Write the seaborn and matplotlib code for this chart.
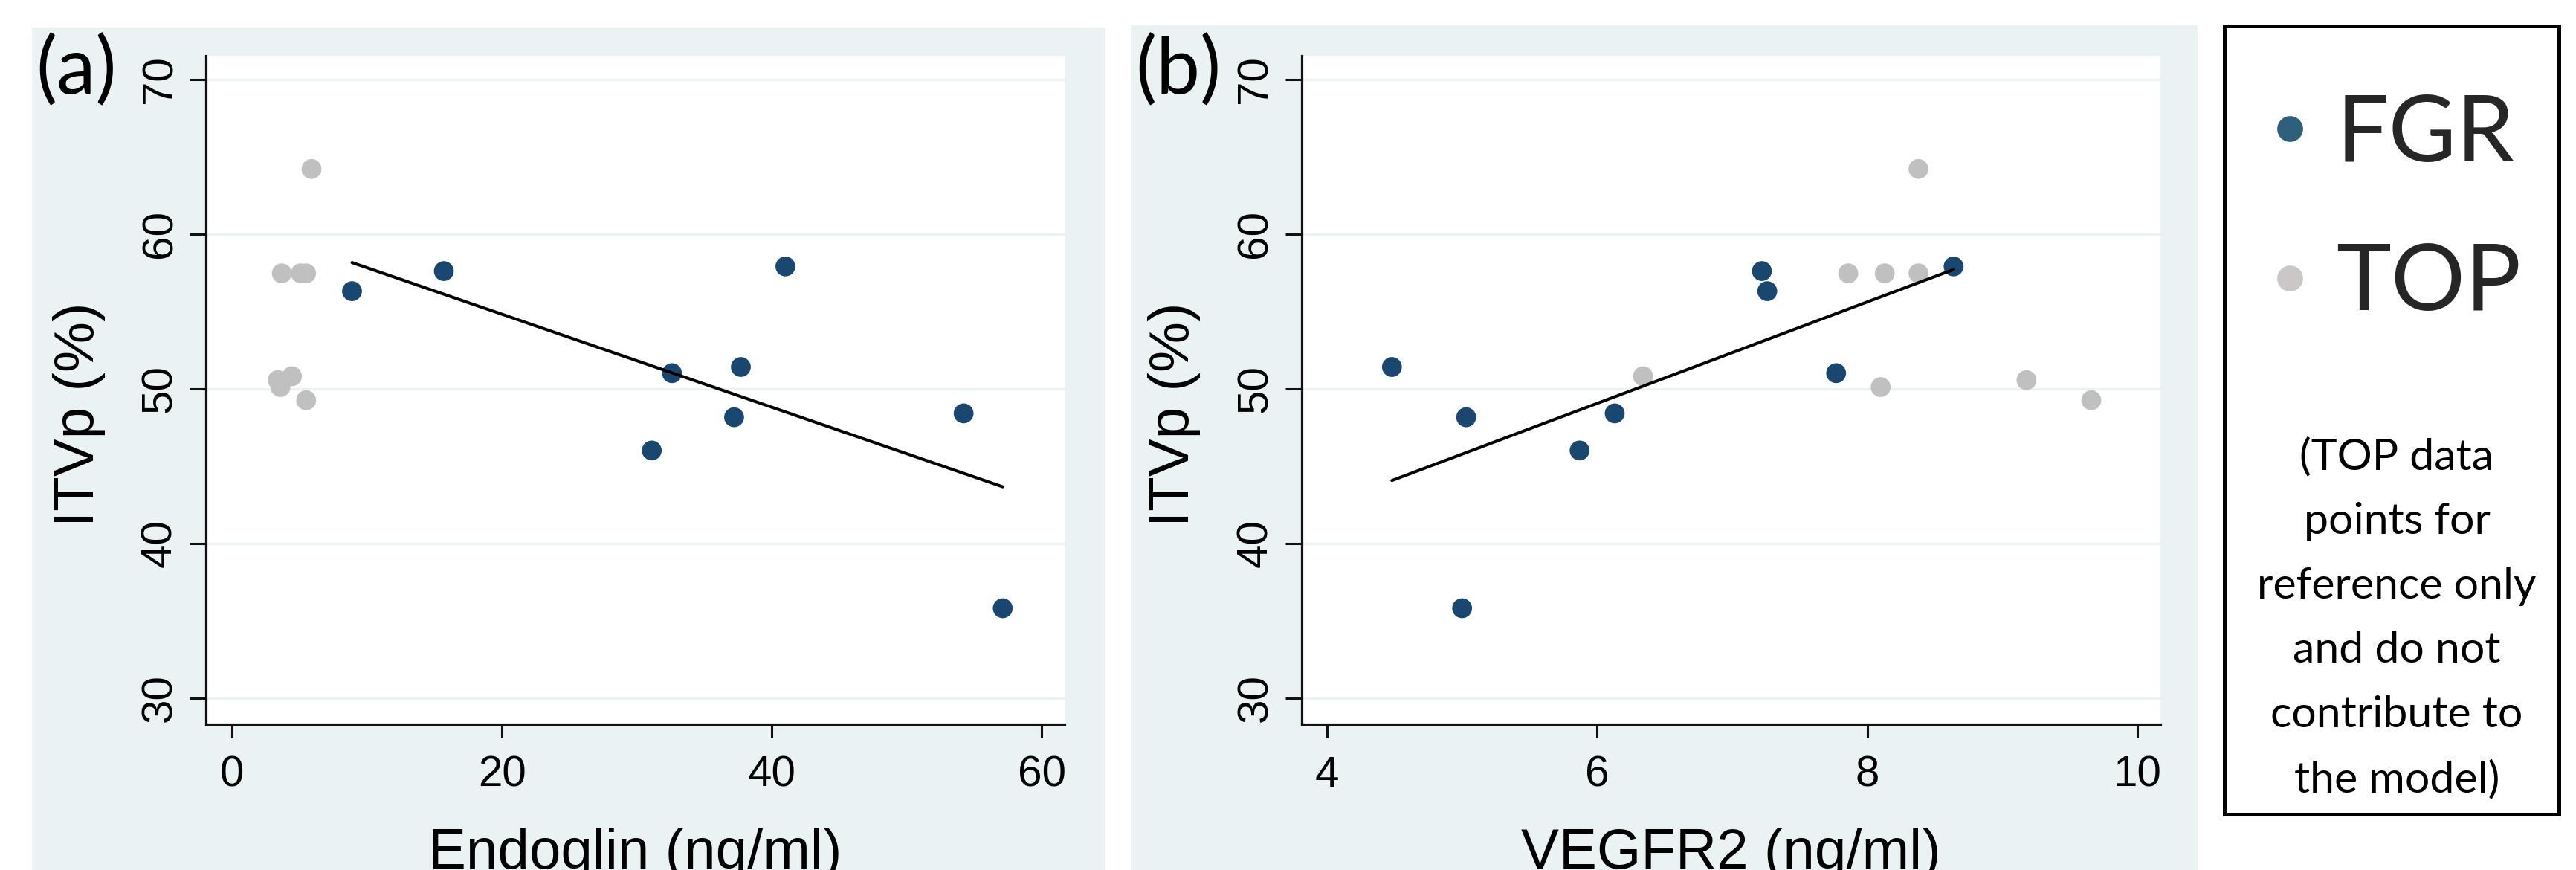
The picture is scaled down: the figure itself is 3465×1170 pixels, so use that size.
import numpy as np
import pandas as pd
import matplotlib
matplotlib.use("Agg")
import matplotlib.pyplot as plt
from matplotlib.patches import Rectangle
from matplotlib.lines import Line2D
import seaborn as sns

# ---- data ----
# FGR cases (these make the fitted line)
itvp_fgr = [56.3, 57.6, 57.9, 51.0, 51.4, 48.15, 46.0, 48.4, 35.8]
endoglin_fgr = [8.9, 15.7, 41.0, 32.6, 37.7, 37.2, 31.1, 54.2, 57.1]
vegfr2_fgr = [7.26, 7.22, 8.64, 7.77, 4.48, 5.03, 5.87, 6.13, 5.0]

# TOP cases (reference only)
itvp_top = [64.2, 57.45, 57.45, 57.45, 50.8, 50.55, 50.1, 49.25]
endoglin_top = [5.9, 3.7, 5.1, 5.5, 4.45, 3.4, 3.6, 5.5]
vegfr2_top = [8.38, 7.86, 8.13, 8.38, 6.34, 9.18, 8.1, 9.66]

groups = ["FGR", "TOP"]
y_ticks = [30, 40, 50, 60, 70]
x_ticks_a = [0, 20, 40, 60]
x_ticks_b = [4, 6, 8, 10]
note = "(TOP data\npoints for\nreference only\nand do not\ncontribute to\nthe model)"

df = pd.DataFrame({
    "ITVp": itvp_top + itvp_fgr,
    "Endoglin": endoglin_top + endoglin_fgr,
    "VEGFR2": vegfr2_top + vegfr2_fgr,
    "group": ["TOP"] * len(itvp_top) + ["FGR"] * len(itvp_fgr),
})
fgr = df[df["group"] == "FGR"]

navy = "#1a476f"
grey = "#c0c0c0"
bg = "#eaf2f3"
palette = {"FGR": navy, "TOP": grey}

sns.set_theme(style="white")
plt.rcParams["font.family"] = ["Liberation Sans", "DejaVu Sans"]

W, H = 3465, 1170
fig = plt.figure(figsize=(W / 100, H / 100), dpi=100, facecolor="white")

def fx(px):
    return px / W

def fy(py):
    return 1 - py / H

# grey-blue graph regions behind each panel
fig.add_artist(Rectangle((fx(43), 0), fx(1487) - fx(43), fy(37), transform=fig.transFigure,
                         facecolor=bg, edgecolor="none", zorder=-2))
fig.add_artist(Rectangle((fx(1521), 0), fx(2956) - fx(1521), fy(34), transform=fig.transFigure,
                         facecolor=bg, edgecolor="none", zorder=-2))

ax_a = fig.add_axes([fx(277), fy(974), fx(1432) - fx(277), fy(74.6) - fy(974)])
ax_b = fig.add_axes([fx(1750.6), fy(974), fx(2906) - fx(1750.6), fy(74.6) - fy(974)])

panels = [
    (ax_a, "Endoglin", "Endoglin (ng/ml)", x_ticks_a, (-1.92, 61.68), "(a)", 103),
    (ax_b, "VEGFR2", "VEGFR2 (ng/ml)", x_ticks_b, (3.81, 10.172), "(b)", 1585),
]

for ax, col, xlabel, xt, xlim, tag, tag_x in panels:
    ax.set_facecolor("white")
    sns.scatterplot(data=df, x=col, y="ITVp", hue="group", palette=palette,
                    s=370, linewidth=0, legend=False, ax=ax, zorder=3)
    sns.regplot(data=fgr, x=col, y="ITVp", scatter=False, ci=None, color="black",
                line_kws={"lw": 2.9, "zorder": 4}, ax=ax)

    ax.set_xlim(*xlim)
    ax.set_ylim(28.3, 71.54)
    ax.set_xticks(xt)
    ax.set_yticks(y_ticks)
    ax.grid(axis="y", color=bg, lw=2.4, zorder=0)
    ax.grid(axis="x", visible=False)
    ax.set_axisbelow(True)

    for side in ["top", "right"]:
        ax.spines[side].set_visible(False)
    for side in ["left", "bottom"]:
        ax.spines[side].set_color("#111111")
        ax.spines[side].set_linewidth(2.3)

    ax.tick_params(axis="x", bottom=True, length=13.3, width=2.2, pad=16.6,
                   labelsize=42, color="#111111", labelcolor="black")
    ax.tick_params(axis="y", left=True, length=16, width=2.2, pad=9,
                   labelsize=42, color="#111111", labelcolor="black")
    plt.setp(ax.get_yticklabels(), rotation=90, va="center")

    ax.set_xlabel(xlabel, fontsize=55, color="black")
    ax.xaxis.set_label_coords(0.5, -0.1545)
    ax.set_ylabel("ITVp (%)", fontsize=55, color="black")
    ax.yaxis.set_label_coords(-0.117, 0.4636)

    fig.text(fx(tag_x), fy(95), tag, fontsize=76, family="Lato",
             ha="center", va="center", color="black")

# legend box on the right
fig.add_artist(Rectangle((fx(2991.5), fy(1094.5)), fx(3441.5) - fx(2991.5), fy(34.5) - fy(1094.5),
                         transform=fig.transFigure, facecolor="white", edgecolor="black",
                         lw=3.6, zorder=1))

handles = [
    Line2D([], [], marker="o", linestyle="", markersize=25, markeredgewidth=0,
           markerfacecolor="#2f5f7a", label="FGR"),
    Line2D([], [], marker="o", linestyle="", markersize=25, markeredgewidth=0,
           markerfacecolor="#cbc7c7", label="TOP"),
]
leg = fig.legend(handles=handles, labels=groups, loc="center",
                 bbox_to_anchor=(fx(3217), fy(282)), frameon=False, borderpad=0,
                 handlelength=0.6, handletextpad=0.2, labelspacing=0.71,
                 prop={"family": "Lato", "size": 90})
leg.set_zorder(2)

fig.text(fx(3224), fy(588), note, fontsize=42.5, family="Lato", ha="center", va="top",
         multialignment="center", linespacing=1.78, color="black", zorder=2)

fig.savefig("out.png", dpi=100, facecolor="white")
